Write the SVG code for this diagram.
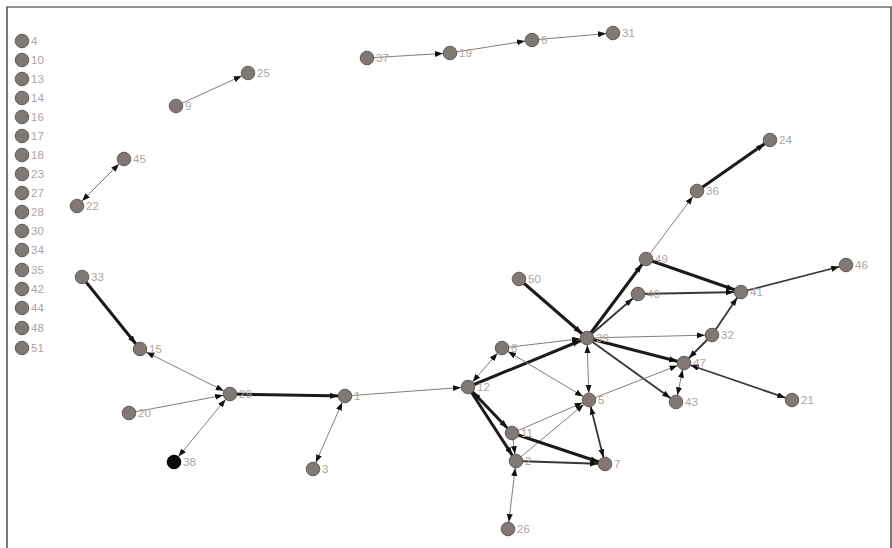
<svg xmlns="http://www.w3.org/2000/svg" width="892" height="548" viewBox="0 0 892 548">
<defs>
<style>
.n circle{fill:#7f7874;stroke:#625b58;stroke-width:1}
.n text{font-family:"Liberation Sans",Arial,sans-serif;font-size:11.5px;fill:#aaa4a1}
.e line{stroke:#8a7c77;stroke-width:1;fill:none}
.e line.m{stroke:#3a3432;stroke-width:1.8}
.e line.t{stroke:#1e1a19;stroke-width:3}
.a{marker-end:url(#ah)}
.b{marker-start:url(#ah);marker-end:url(#ah)}
</style>
<marker id="ah" markerUnits="userSpaceOnUse" markerWidth="16" markerHeight="8" refX="15" refY="3" orient="auto-start-reverse">
<path d="M0,0 L8,3 L0,6 z" fill="#111"/>
</marker>
</defs>
<rect x="0" y="0" width="892" height="548" fill="#fff"/>
<path d="M7,548 V7 H891 V548" fill="none" stroke="#222" stroke-width="1.2"/>
<g id="connectors" class="e">
<line class="a" x1="367" y1="58" x2="450" y2="53"/>
<line class="a" x1="450" y1="53" x2="532" y2="40"/>
<line class="a" x1="532" y1="40" x2="613" y2="33"/>
<line class="a" x1="176" y1="106" x2="248" y2="73"/>
<line class="b" x1="77" y1="206" x2="124" y2="159"/>
<line class="a t" x1="82" y1="277" x2="140" y2="349"/>
<line class="b" x1="230" y1="394" x2="140" y2="349"/>
<line class="a" x1="129" y1="413" x2="230" y2="394"/>
<line class="b" x1="230" y1="394" x2="174" y2="462"/>
<line class="a t" x1="230" y1="394" x2="345" y2="396"/>
<line class="b" x1="345" y1="396" x2="313" y2="469"/>
<line class="a" x1="345" y1="396" x2="468" y2="387"/>
<line class="b" x1="468" y1="387" x2="502" y2="348"/>
<line class="a t" x1="468" y1="387" x2="587" y2="338"/>
<line class="a t" x1="519" y1="279" x2="587" y2="338"/>
<line class="a" x1="502" y1="348" x2="587" y2="338"/>
<line class="b" x1="502" y1="348" x2="589" y2="400"/>
<line class="a t" x1="587" y1="338" x2="646" y2="259"/>
<line class="a m" x1="587" y1="338" x2="638" y2="294"/>
<line class="a" x1="587" y1="338" x2="712" y2="335"/>
<line class="a t" x1="587" y1="338" x2="684" y2="363"/>
<line class="a m" x1="587" y1="338" x2="676" y2="402"/>
<line class="b" x1="587" y1="338" x2="589" y2="400"/>
<line class="b t" x1="468" y1="387" x2="512" y2="433"/>
<line class="a t" x1="468" y1="387" x2="516" y2="461"/>
<line class="a" x1="512" y1="433" x2="589" y2="400"/>
<line class="a" x1="516" y1="461" x2="589" y2="400"/>
<line class="a t" x1="512" y1="433" x2="605" y2="464"/>
<line class="a m" x1="516" y1="461" x2="605" y2="464"/>
<line class="b m" x1="589" y1="400" x2="605" y2="464"/>
<line class="a" x1="512" y1="433" x2="516" y2="461"/>
<line class="b" x1="516" y1="461" x2="508" y2="529"/>
<line class="a" x1="589" y1="400" x2="684" y2="363"/>
<line class="a m" x1="712" y1="335" x2="741" y2="292"/>
<line class="a m" x1="712" y1="335" x2="684" y2="363"/>
<line class="b" x1="684" y1="363" x2="676" y2="402"/>
<line class="b m" x1="684" y1="363" x2="792" y2="400"/>
<line class="a t" x1="646" y1="259" x2="741" y2="292"/>
<line class="a m" x1="638" y1="294" x2="741" y2="292"/>
<line class="a m" x1="741" y1="292" x2="846" y2="265"/>
<line class="a" x1="646" y1="259" x2="697" y2="191"/>
<line class="a t" x1="697" y1="191" x2="770" y2="140"/>
</g>
<g id="n4" class="n"><circle cx="22" cy="41" r="6.8"/><text x="31" y="45">4</text></g>
<g id="n10" class="n"><circle cx="22" cy="60" r="6.8"/><text x="31" y="64">10</text></g>
<g id="n13" class="n"><circle cx="22" cy="79" r="6.8"/><text x="31" y="83">13</text></g>
<g id="n14" class="n"><circle cx="22" cy="98" r="6.8"/><text x="31" y="102">14</text></g>
<g id="n16" class="n"><circle cx="22" cy="117" r="6.8"/><text x="31" y="121">16</text></g>
<g id="n17" class="n"><circle cx="22" cy="136" r="6.8"/><text x="31" y="140">17</text></g>
<g id="n18" class="n"><circle cx="22" cy="155" r="6.8"/><text x="31" y="159">18</text></g>
<g id="n23" class="n"><circle cx="22" cy="174" r="6.8"/><text x="31" y="178">23</text></g>
<g id="n27" class="n"><circle cx="22" cy="193" r="6.8"/><text x="31" y="197">27</text></g>
<g id="n28" class="n"><circle cx="22" cy="212" r="6.8"/><text x="31" y="216">28</text></g>
<g id="n30" class="n"><circle cx="22" cy="231" r="6.8"/><text x="31" y="235">30</text></g>
<g id="n34" class="n"><circle cx="22" cy="250" r="6.8"/><text x="31" y="254">34</text></g>
<g id="n35" class="n"><circle cx="22" cy="270" r="6.8"/><text x="31" y="274">35</text></g>
<g id="n42" class="n"><circle cx="22" cy="289" r="6.8"/><text x="31" y="293">42</text></g>
<g id="n44" class="n"><circle cx="22" cy="308" r="6.8"/><text x="31" y="312">44</text></g>
<g id="n48" class="n"><circle cx="22" cy="328" r="6.8"/><text x="31" y="332">48</text></g>
<g id="n51" class="n"><circle cx="22" cy="348" r="6.8"/><text x="31" y="352">51</text></g>
<g id="n37" class="n"><circle cx="367" cy="58" r="6.8"/><text x="376" y="62">37</text></g>
<g id="n19" class="n"><circle cx="450" cy="53" r="6.8"/><text x="459" y="57">19</text></g>
<g id="n6" class="n"><circle cx="532" cy="40" r="6.8"/><text x="541" y="44">6</text></g>
<g id="n31" class="n"><circle cx="613" cy="33" r="6.8"/><text x="622" y="37">31</text></g>
<g id="n9" class="n"><circle cx="176" cy="106" r="6.8"/><text x="185" y="110">9</text></g>
<g id="n25" class="n"><circle cx="248" cy="73" r="6.8"/><text x="257" y="77">25</text></g>
<g id="n45" class="n"><circle cx="124" cy="159" r="6.8"/><text x="133" y="163">45</text></g>
<g id="n22" class="n"><circle cx="77" cy="206" r="6.8"/><text x="86" y="210">22</text></g>
<g id="n33" class="n"><circle cx="82" cy="277" r="6.8"/><text x="91" y="281">33</text></g>
<g id="n15" class="n"><circle cx="140" cy="349" r="6.8"/><text x="149" y="353">15</text></g>
<g id="n29" class="n"><circle cx="230" cy="394" r="6.8"/><text x="239" y="398">29</text></g>
<g id="n20" class="n"><circle cx="129" cy="413" r="6.8"/><text x="138" y="417">20</text></g>
<g id="n38" class="n"><circle cx="174" cy="462" r="6.8" style="fill:#0a0a0a;stroke:#000"/><text x="183" y="466">38</text></g>
<g id="n1" class="n"><circle cx="345" cy="396" r="6.8"/><text x="354" y="400">1</text></g>
<g id="n3" class="n"><circle cx="313" cy="469" r="6.8"/><text x="322" y="473">3</text></g>
<g id="n12" class="n"><circle cx="468" cy="387" r="6.8"/><text x="477" y="391">12</text></g>
<g id="n8" class="n"><circle cx="502" cy="348" r="6.8"/><text x="511" y="352">8</text></g>
<g id="n50" class="n"><circle cx="519" cy="279" r="6.8"/><text x="528" y="283">50</text></g>
<g id="n39" class="n"><circle cx="587" cy="338" r="6.8"/><text x="596" y="342">39</text></g>
<g id="n5" class="n"><circle cx="589" cy="400" r="6.8"/><text x="598" y="404">5</text></g>
<g id="n11" class="n"><circle cx="512" cy="433" r="6.8"/><text x="521" y="437">11</text></g>
<g id="n2" class="n"><circle cx="516" cy="461" r="6.8"/><text x="525" y="465">2</text></g>
<g id="n7" class="n"><circle cx="605" cy="464" r="6.8"/><text x="614" y="468">7</text></g>
<g id="n26" class="n"><circle cx="508" cy="529" r="6.8"/><text x="517" y="533">26</text></g>
<g id="n49" class="n"><circle cx="646" cy="259" r="6.8"/><text x="655" y="263">49</text></g>
<g id="n40" class="n"><circle cx="638" cy="294" r="6.8"/><text x="647" y="298">40</text></g>
<g id="n41" class="n"><circle cx="741" cy="292" r="6.8"/><text x="750" y="296">41</text></g>
<g id="n36" class="n"><circle cx="697" cy="191" r="6.8"/><text x="706" y="195">36</text></g>
<g id="n24" class="n"><circle cx="770" cy="140" r="6.8"/><text x="779" y="144">24</text></g>
<g id="n46" class="n"><circle cx="846" cy="265" r="6.8"/><text x="855" y="269">46</text></g>
<g id="n32" class="n"><circle cx="712" cy="335" r="6.8"/><text x="721" y="339">32</text></g>
<g id="n47" class="n"><circle cx="684" cy="363" r="6.8"/><text x="693" y="367">47</text></g>
<g id="n43" class="n"><circle cx="676" cy="402" r="6.8"/><text x="685" y="406">43</text></g>
<g id="n21" class="n"><circle cx="792" cy="400" r="6.8"/><text x="801" y="404">21</text></g>
</svg>
